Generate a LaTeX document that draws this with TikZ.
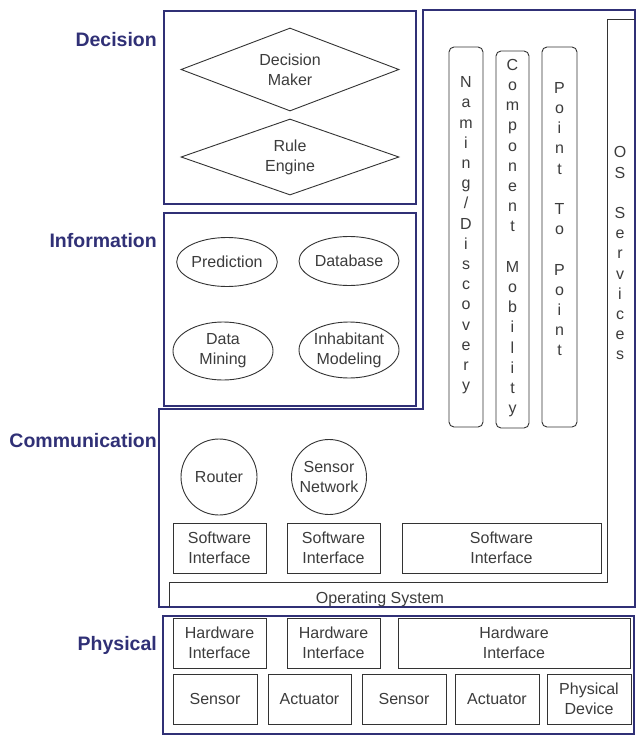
\documentclass[tikz,border=0pt]{standalone}
\usepackage{fontspec}
\setmainfont{Liberation Sans}
\usetikzlibrary{shapes.geometric}
\definecolor{navy}{RGB}{48,48,118}
\definecolor{ink}{RGB}{60,60,60}
\newcommand{\boxat}[6]{\node[sqbox, minimum width={#4pt-#2pt}, minimum height={#5pt-#3pt}] (#1) at ({(#2+#4)/2},{(#3+#5)/2}) {#6};}
\begin{document}
\begin{tikzpicture}[x=1pt,y=-1pt,
  layerbox/.style={draw=navy, line width=1.8pt},
  thinline/.style={draw=black!80, line width=0.9pt},
  txt/.style={font=\fontsize{16}{20}\selectfont, text=ink, align=center, inner sep=0pt},
  vtxt/.style={font=\fontsize{16}{20.2}\selectfont, text=ink, align=center, inner sep=0pt, anchor=north},
  lbl/.style={font=\fontsize{19.5}{22}\selectfont\bfseries, text=navy, anchor=base east, inner sep=0pt},
  sqbox/.style={thinline, txt, rectangle},
  dia/.style={thinline, txt, diamond, aspect=2.6, minimum width=218pt, inner sep=0pt},
  ell/.style={thinline, txt, ellipse, minimum width=100pt, inner sep=0pt},
  circ/.style={thinline, txt, circle, inner sep=0pt},
  vbar/.style={thinline, rectangle, rounded corners=5pt, minimum width=34pt, inner sep=0pt}
]
\useasboundingbox[fill=white] (0,0) rectangle (642,742);

% layer labels
\node[lbl] (lDec) at (157,46) {Decision};
\node[lbl] (lInf) at (157,247) {Information};
\node[lbl] (lCom) at (157,447) {Communication};
\node[lbl] (lPhy) at (157,650) {Physical};

% layer boxes
\node[layerbox, rectangle, anchor=north west, minimum width=252pt, minimum height=193pt, inner sep=0pt] (decbox) at (163,10) {};
\node[layerbox, rectangle, anchor=north west, minimum width=252pt, minimum height=193pt, inner sep=0pt] (infbox) at (163,212) {};
\draw[layerbox] (159,409) -- (423,409) -- (423,10) -- (635,10) -- (635,607) -- (159,607) -- cycle;
\node[layerbox, rectangle, anchor=north west, minimum width=471pt, minimum height=118pt, inner sep=0pt] (phybox) at (162,615) {};

% operating system / OS services outline
\draw[thinline] (169,607) -- (169,582) -- (607,582) -- (607,19) -- (635,19);
\node[txt, anchor=base] (os) at (380,603) {Operating System};
\node[vtxt] (oss) at (620,143.5) {\strut O\\\strut S\\\strut\\\strut S\\\strut e\\\strut r\\\strut v\\\strut i\\\strut c\\\strut e\\\strut s};

% decision
\node[dia, minimum height=83pt] (dm) at (290,69.5) {Decision\\Maker};
\node[dia, minimum height=76pt] (re) at (290,157) {Rule\\Engine};

% information
\node[ell, minimum height=49pt] (pred) at (227,262) {Prediction};
\node[ell, minimum height=49pt] (db) at (349,261) {Database};
\node[ell, minimum height=58pt] (dmin) at (223,351) {Data\\Mining};
\node[ell, minimum height=56pt] (inh) at (349,350) {Inhabitant\\Modeling};

% vertical service bars
\node[vbar, minimum height=380pt] (bNam) at (466,237) {};
\node[vbar, minimum height=377pt, minimum width=33pt] (bCom) at (512.5,239.5) {};
\node[vbar, minimum height=380pt, minimum width=35pt] (bPtp) at (559.5,237) {};
\node[vtxt] (tNam) at (466,73.3) {\strut N\\\strut a\\\strut m\\\strut i\\\strut n\\\strut g\\\strut /\\\strut D\\\strut i\\\strut s\\\strut c\\\strut o\\\strut v\\\strut e\\\strut r\\\strut y};
\node[vtxt] (tCom) at (512.5,55.9) {\strut C\\\strut o\\\strut m\\\strut p\\\strut o\\\strut n\\\strut e\\\strut n\\\strut t\\\strut\\\strut M\\\strut o\\\strut b\\\strut i\\\strut l\\\strut i\\\strut t\\\strut y};
\node[vtxt] (tPtp) at (559.5,78.9) {\strut P\\\strut o\\\strut i\\\strut n\\\strut t\\\strut\\\strut T\\\strut o\\\strut\\\strut P\\\strut o\\\strut i\\\strut n\\\strut t};

% communication
\node[circ, minimum size=76pt] (router) at (219,477) {Router};
\node[circ, minimum size=75pt] (snet) at (329,477) {Sensor\\Network};
\boxat{si1}{173}{523}{266}{573}{Software\\Interface}
\boxat{si2}{287}{523}{380}{573}{Software\\Interface}
\boxat{si3}{402}{523}{601}{573}{Software\\Interface}

% physical
\boxat{hi1}{173}{618}{266}{668}{Hardware\\Interface}
\boxat{hi2}{287}{618}{380}{668}{Hardware\\Interface}
\boxat{hi3}{398}{618}{630}{668}{Hardware\\Interface}
\boxat{sen1}{173}{674}{257}{724}{Sensor}
\boxat{act1}{268}{674}{351}{724}{Actuator}
\boxat{sen2}{362}{674}{446}{724}{Sensor}
\boxat{act2}{455}{674}{539}{724}{Actuator}
\boxat{pdev}{547}{674}{631}{724}{Physical\\Device}
\end{tikzpicture}
\end{document}
